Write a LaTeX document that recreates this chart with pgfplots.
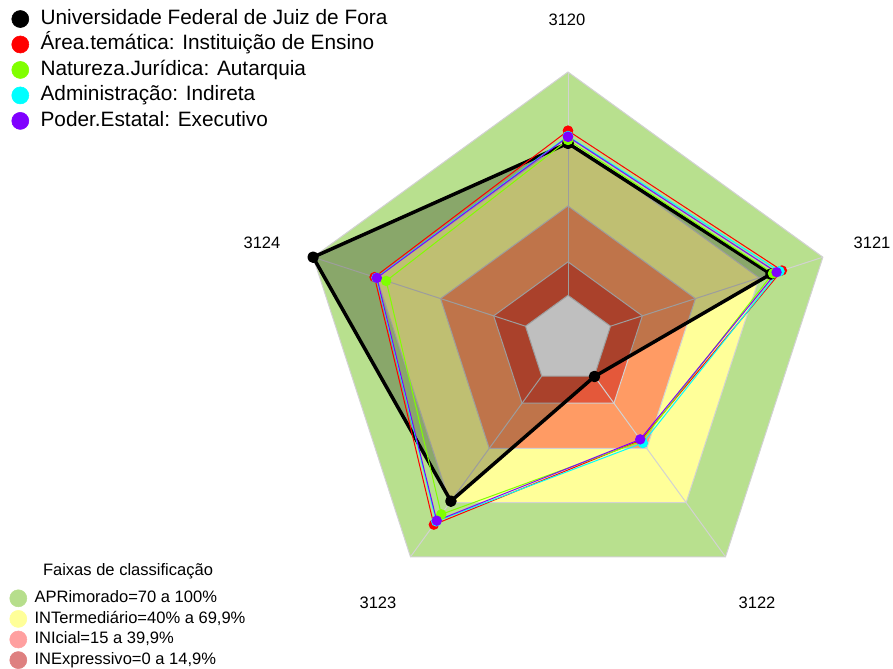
\documentclass[border=0pt]{standalone}
\usepackage{pgfplots}
\pgfplotsset{compat=1.18}
\usepackage{pgfplotstable}
\usepackage{fontspec}
\setmainfont{Liberation Sans}

\definecolor{bandG}{RGB}{184,224,142}
\definecolor{bandY}{RGB}{255,255,153}
\definecolor{bandO}{RGB}{255,155,100}
\definecolor{bandR}{RGB}{228,88,58}
\definecolor{legG}{RGB}{182,222,140}
\definecolor{legY}{RGB}{255,255,153}
\definecolor{legP}{RGB}{255,160,160}
\definecolor{legR}{RGB}{222,128,128}
\definecolor{sRed}{RGB}{255,0,0}
\definecolor{sGreen}{RGB}{128,255,0}
\definecolor{sCyan}{RGB}{0,255,255}
\definecolor{sPurple}{RGB}{128,0,255}
\definecolor{gridc}{RGB}{210,210,210}

% values in percent, one row per radar axis (angle in degrees), first row repeated to close
\pgfplotstableread{
ang ufjf area nat adm pod
90   68.1 73.7 69.6 71.3 71.0
18   75.5 80.7 76.5 79.6 78.2
-54  0.2  35.5 36.0 37.0 35.0
-126 69.2 82.2 76.5 80.4 80.0
162  100  71.1 65.6 70.2 70.0
90   68.1 73.7 69.6 71.3 71.0
}\radar

\pgfplotstableread{
ang apr int ini inx zero
90   100 70 40 15 0
18   100 70 40 15 0
-54  100 70 40 15 0
-126 100 70 40 15 0
162  100 70 40 15 0
90   100 70 40 15 0
}\bands

\pgfplotsset{
  radarbase/.style={
    width=669.75pt, height=501pt, scale only axis,
    xmin=-568, xmax=325, ymin=-328, ymax=340,
    hide axis, clip=false,
  },
}

\begin{document}
\begin{tikzpicture}
\begin{axis}[radarbase,
  legend image code/.code={\fill[#1] (0pt,0pt) circle (6.4pt);},
  legend cell align=left,
  legend style={at={(axis cs:-556.5,330.5)}, anchor=north west, draw=none, fill=none,
    inner sep=0pt, outer sep=0pt, row sep=4.8pt, column sep=0pt,
    font=\fontsize{15.6}{18}\selectfont,
    nodes={inner sep=0pt, outer sep=0pt, text height=11pt, text depth=3.3pt},
    /tikz/every odd column/.style={column sep=8.6pt}},
]
\path (axis cs:-568,-328) rectangle (axis cs:325,340);
% bands
\addplot[draw=none, fill=bandG, forget plot, data cs=polar] table[x=ang, y expr=44.667+2.2333*\thisrow{apr}] {\bands};
\addplot[draw=none, fill=bandY, forget plot, data cs=polar] table[x=ang, y expr=44.667+2.2333*\thisrow{int}] {\bands};
\addplot[draw=none, fill=bandO, forget plot, data cs=polar] table[x=ang, y expr=44.667+2.2333*\thisrow{ini}] {\bands};
\addplot[draw=none, fill=bandR, forget plot, data cs=polar] table[x=ang, y expr=44.667+2.2333*\thisrow{inx}] {\bands};
\addplot[draw=none, fill=white, forget plot, data cs=polar] table[x=ang, y expr=44.667+2.2333*\thisrow{zero}] {\bands};
% grid
\foreach \c in {apr,int,ini,inx,zero}{
  \addplot[gridc, line width=0.75pt, forget plot, data cs=polar] table[x=ang, y expr=44.667+2.2333*\thisrow{\c}] {\bands};
}
\addplot[gridc, line width=0.75pt, forget plot, data cs=polar] coordinates {(90,44.667) (90,268)};
\addplot[gridc, line width=0.75pt, forget plot, data cs=polar] coordinates {(18,44.667) (18,268)};
\addplot[gridc, line width=0.75pt, forget plot, data cs=polar] coordinates {(-54,44.667) (-54,268)};
\addplot[gridc, line width=0.75pt, forget plot, data cs=polar] coordinates {(-126,44.667) (-126,268)};
\addplot[gridc, line width=0.75pt, forget plot, data cs=polar] coordinates {(162,44.667) (162,268)};
% UFJF
\addplot[draw=none, fill=black, fill opacity=0.25, forget plot, data cs=polar] table[x=ang, y expr=44.667+2.2333*\thisrow{ufjf}] {\radar};
\addplot[black, line width=2.6pt, line join=round, line cap=round, mark=*, mark size=3pt, forget plot, data cs=polar] table[x=ang, y expr=44.667+2.2333*\thisrow{ufjf}] {\radar};
\addplot[sRed, line width=0.75pt, mark=*, mark size=3.5pt, mark options={draw=none, fill=sRed}, forget plot, data cs=polar] table[x=ang, y expr=44.667+2.2333*\thisrow{area}] {\radar};
\addplot[sGreen, line width=0.75pt, mark=*, mark size=3.5pt, mark options={draw=none, fill=sGreen}, forget plot, data cs=polar] table[x=ang, y expr=44.667+2.2333*\thisrow{nat}] {\radar};
\addplot[sCyan, line width=0.75pt, mark=*, mark size=3.5pt, mark options={draw=none, fill=sCyan}, forget plot, data cs=polar] table[x=ang, y expr=44.667+2.2333*\thisrow{adm}] {\radar};
\addplot[sPurple, line width=0.75pt, mark=*, mark size=3.5pt, mark options={draw=none, fill=sPurple}, forget plot, data cs=polar] table[x=ang, y expr=44.667+2.2333*\thisrow{pod}] {\radar};
% legend
\addlegendimage{black}\addlegendentry{Universidade Federal de Juiz de Fora}
\addlegendimage{sRed}\addlegendentry{Área.temática: Instituição de Ensino}
\addlegendimage{sGreen}\addlegendentry{Natureza.Jurídica: Autarquia}
\addlegendimage{sCyan}\addlegendentry{Administração: Indireta}
\addlegendimage{sPurple}\addlegendentry{Poder.Estatal: Executivo}
% axis labels
\begin{scope}[every node/.style={font=\fontsize{12.4}{14}\selectfont, inner sep=0pt}]
\node at (axis cs:-1,320) {3120};
\node at (axis cs:304,97) {3121};
\node at (axis cs:189,-263) {3122};
\node at (axis cs:-190,-263) {3123};
\node at (axis cs:-306,97) {3124};
\node at (axis cs:-440,-231) {Faixas de classificação};
\end{scope}
\end{axis}
\begin{axis}[radarbase,
  legend image code/.code={\fill[#1] (0pt,0pt) circle (6.4pt);},
  legend cell align=left,
  legend style={at={(axis cs:-558.5,-249.5)}, anchor=north west, draw=none, fill=none,
    inner sep=0pt, outer sep=0pt, row sep=2.25pt, column sep=0pt,
    font=\fontsize{12.4}{14}\selectfont,
    nodes={inner sep=0pt, outer sep=0pt, text height=9pt, text depth=2.8pt},
    /tikz/every odd column/.style={column sep=5.6pt}},
]
\addlegendimage{legG}\addlegendentry{APRimorado=70 a 100\%}
\addlegendimage{legY}\addlegendentry{INTermediário=40\% a 69,9\%}
\addlegendimage{legP}\addlegendentry{INIcial=15 a 39,9\%}
\addlegendimage{legR}\addlegendentry{INExpressivo=0 a 14,9\%}
\end{axis}
\end{tikzpicture}
\end{document}
